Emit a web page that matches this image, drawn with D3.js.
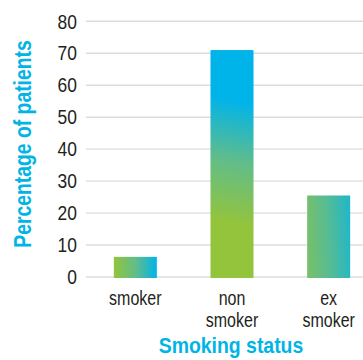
<!DOCTYPE html>
<html>
<head>
<meta charset="utf-8">
<script src="https://cdn.jsdelivr.net/npm/d3@7/dist/d3.min.js"></script>
<style>
  html, body { margin: 0; padding: 0; background: #ffffff; }
  svg { display: block; }
  text { font-family: "Liberation Sans", Arial, sans-serif; }
</style>
</head>
<body>
<svg id="chart" width="363" height="360"></svg>
<script>
// Share of patients by smoking status (%)
const categories = ["smoker", "non smoker", "ex smoker"];
const categoryLines = [["smoker"], ["non", "smoker"], ["ex", "smoker"]];
const values = [6.3, 71, 25.5];
const yTicks = [0, 10, 20, 30, 40, 50, 60, 70, 80];
const yTitle = "Percentage of patients";
const xTitle = "Smoking status";

// Per-bar gradient direction (bounding-box units) and where it starts/ends on the green→blue ramp
const gradientDirs = [
  { x1: 0, y1: 0.5, x2: 1, y2: 0.5, from: 0, to: 1 },
  { x1: 0.49, y1: 0.76, x2: 0.51, y2: 0.22, from: 0, to: 1 },
  { x1: 0, y1: 0.55, x2: 1, y2: 0.45, from: 0.3, to: 0.82 }
];
const ramp = d3.scaleLinear()
  .domain([0, 0.5, 1])
  .range(["#93c43c", "#62bd88", "#00b4ea"]);

const svg = d3.select("#chart");
const gridLeft = 86, gridRight = 363;

const y = d3.scaleLinear().domain([0, 80]).range([277, 21.3]);
const x = d3.scaleBand()
  .domain(categories)
  .range([87, 377])
  .paddingInner(0.555)
  .paddingOuter(0.2775);

// gradients
const defs = svg.append("defs");
gradientDirs.forEach((g, i) => {
  const lg = defs.append("linearGradient")
    .attr("id", "grad" + i)
    .attr("x1", g.x1).attr("y1", g.y1)
    .attr("x2", g.x2).attr("y2", g.y2);
  lg.append("stop").attr("offset", 0).attr("stop-color", ramp(g.from));
  lg.append("stop").attr("offset", 0.5).attr("stop-color", ramp((g.from + g.to) / 2));
  lg.append("stop").attr("offset", 1).attr("stop-color", ramp(g.to));
});

// gridlines
svg.append("g")
  .selectAll("line")
  .data(yTicks)
  .join("line")
  .attr("x1", gridLeft).attr("x2", gridRight)
  .attr("y1", d => y(d)).attr("y2", d => y(d))
  .attr("stroke", "#dcdcdc")
  .attr("stroke-width", 1.4);

// y axis tick labels, narrowed to a condensed look
const yAxis = d3.axisLeft(y).tickValues(yTicks).tickSize(0).tickPadding(0);
const gy = svg.append("g").attr("transform", "translate(77,0)").call(yAxis);
gy.select(".domain").remove();
gy.selectAll("text")
  .attr("font-size", 21)
  .attr("fill", "#231f20")
  .attr("font-family", null)
  .attr("transform", "scale(0.83,1)");

// bars
svg.append("g")
  .selectAll("rect")
  .data(values)
  .join("rect")
  .attr("x", (d, i) => x(categories[i]))
  .attr("width", x.bandwidth())
  .attr("y", d => y(d))
  .attr("height", d => y(0) - y(d) + 1)
  .attr("fill", (d, i) => `url(#grad${i})`);

// category labels
const catG = svg.append("g");
categoryLines.forEach((lines, i) => {
  const cx = x(categories[i]) + x.bandwidth() / 2;
  const t = catG.append("text")
    .attr("text-anchor", "middle")
    .attr("font-size", 20)
    .attr("fill", "#231f20")
    .attr("transform", `translate(${cx},0) scale(0.8,1)`);
  lines.forEach((line, j) => {
    t.append("tspan")
      .attr("x", 0)
      .attr("y", 305 + j * 21.7)
      .text(line);
  });
});

// axis titles (condensed bold)
svg.append("text")
  .attr("transform", "translate(231,353) scale(0.84,1)")
  .attr("text-anchor", "middle")
  .attr("font-size", 22)
  .attr("font-weight", "bold")
  .attr("fill", "#00b4e6")
  .attr("textLength", 172)
  .attr("lengthAdjust", "spacingAndGlyphs")
  .text(xTitle);

svg.append("text")
  .attr("transform", "translate(31,144) rotate(-90) scale(0.84,1)")
  .attr("text-anchor", "middle")
  .attr("font-size", 23)
  .attr("font-weight", "bold")
  .attr("fill", "#00b4e6")
  .attr("textLength", 247)
  .attr("lengthAdjust", "spacingAndGlyphs")
  .text(yTitle);
</script>
</body>
</html>
